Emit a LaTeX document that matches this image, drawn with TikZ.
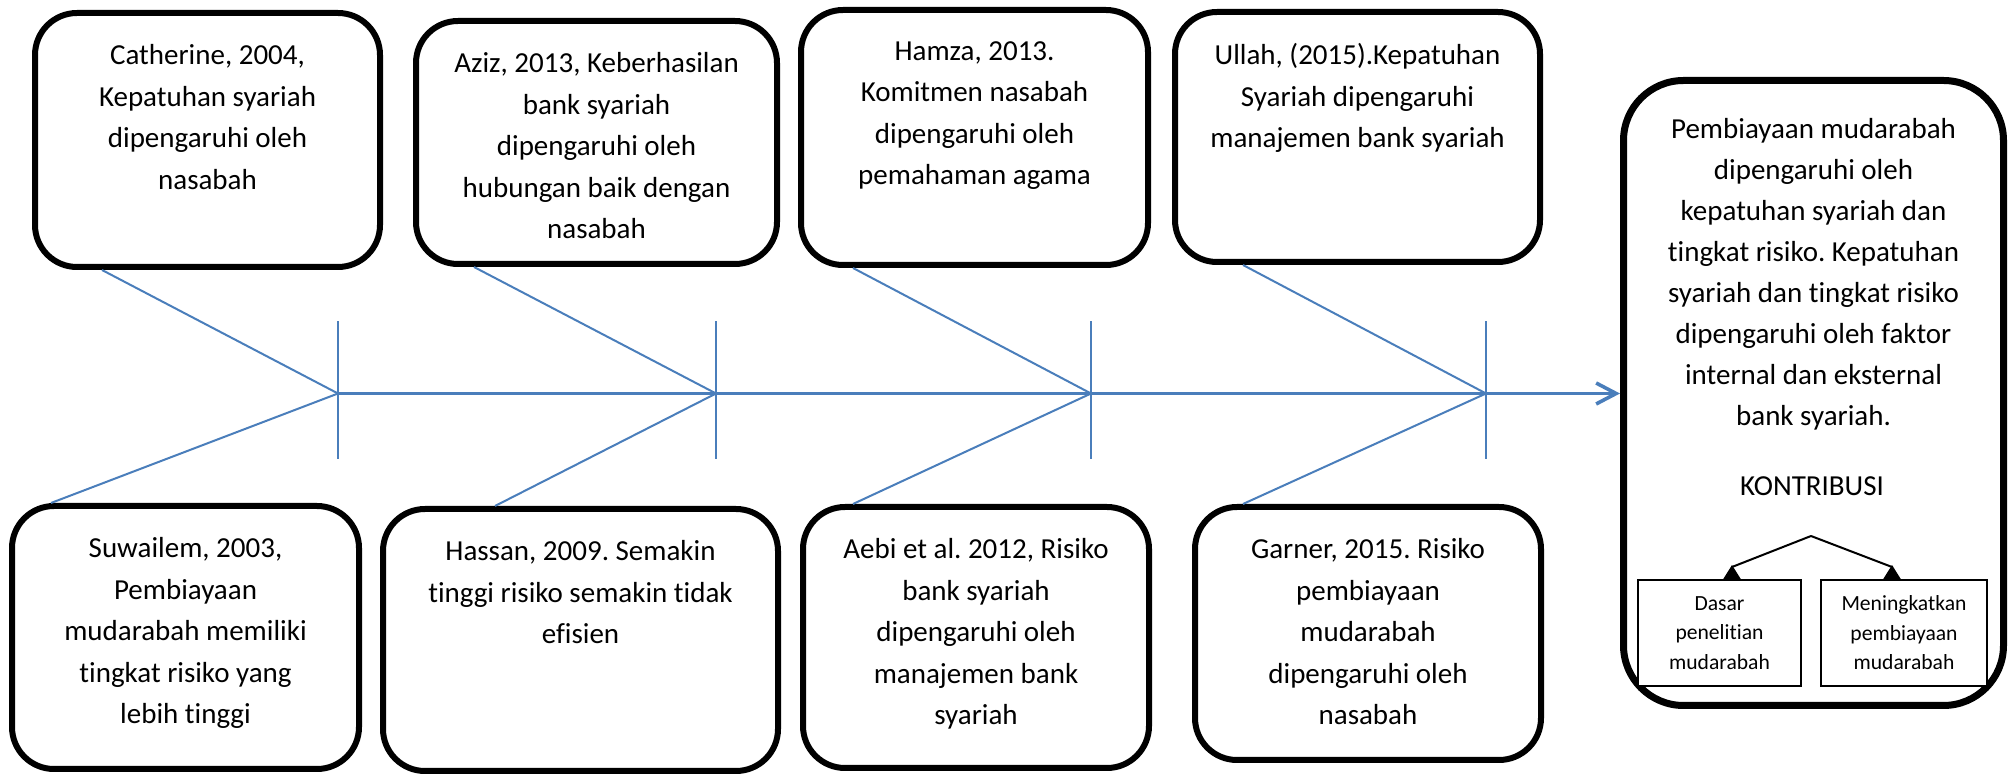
\documentclass[tikz,border=0pt]{standalone}
\usepackage{fontspec}
\setmainfont{Carlito}[Ligatures=NoCommon]
\frenchspacing
\usetikzlibrary{arrows.meta,backgrounds}
\definecolor{fishblue}{HTML}{4A7EBB}
\begin{document}
\begin{tikzpicture}[x=0.5pt,y=-0.5pt,
  refbox/.style={draw=black, line width=3pt, rounded corners=21pt, inner sep=0pt},
  reftext/.style={anchor=north, align=center, inner sep=0pt, font=\fontsize{14.5}{20.75}\selectfont},
  bigbox/.style={draw=black, line width=3.5pt, rounded corners=30pt, inner sep=0pt},
  smallbox/.style={draw=black, line width=1pt, fill=white, inner sep=0pt, align=center, font=\fontsize{10.8}{14.75}\selectfont},
  bone/.style={draw=fishblue, line width=1pt},
  spine/.style={draw=fishblue, line width=1.5pt},
  contrib/.style={draw=black, line width=1pt, -{Triangle[reversed,length=7pt,width=8.5pt]}}
]
\useasboundingbox (0,0) rectangle (2015,774);

% top boxes
\node[refbox, minimum width=172.5pt, minimum height=127pt] (c1) at (207.5,140) {};
\node[refbox, minimum width=180.5pt, minimum height=121.5pt] (c2) at (596.5,142.5) {};
\node[refbox, minimum width=173.5pt, minimum height=127.5pt] (c3) at (974.5,137.5) {};
\node[refbox, minimum width=182.5pt, minimum height=125pt] (c4) at (1357.5,137) {};
% bottom boxes
\node[refbox, minimum width=173.5pt, minimum height=131.5pt] (c5) at (185.5,637.5) {};
\node[refbox, minimum width=197.5pt, minimum height=131pt] (c6) at (580.5,640) {};
\node[refbox, minimum width=173pt, minimum height=130.5pt] (c7) at (976,637.5) {};
\node[refbox, minimum width=173pt, minimum height=126.5pt] (c8) at (1368,633.5) {};

\node[reftext, yshift=-17pt] (t1) at (c1.north) {Catherine, 2004,\\Kepatuhan syariah\\dipengaruhi oleh\\nasabah};
\node[reftext, yshift=-17pt] (t2) at (c2.north) {Aziz, 2013, Keberhasilan\\bank syariah\\dipengaruhi oleh\\hubungan baik dengan\\nasabah};
\node[reftext, yshift=-17pt] (t3) at (c3.north) {Hamza, 2013.\\Komitmen nasabah\\dipengaruhi oleh\\pemahaman agama};
\node[reftext, yshift=-17pt] (t4) at (c4.north) {Ullah, (2015).Kepatuhan\\Syariah dipengaruhi\\manajemen bank syariah};
\node[reftext, yshift=-17pt] (t5) at (c5.north) {Suwailem, 2003,\\Pembiayaan\\mudarabah memiliki\\tingkat risiko yang\\lebih tinggi};
\node[reftext, yshift=-17pt] (t6) at (c6.north) {Hassan, 2009. Semakin\\tinggi risiko semakin tidak\\efisien};
\node[reftext, yshift=-17pt] (t7) at (c7.north) {Aebi et al. 2012, Risiko\\bank syariah\\dipengaruhi oleh\\manajemen bank\\syariah};
\node[reftext, yshift=-17pt] (t8) at (c8.north) {Garner, 2015. Risiko\\pembiayaan\\mudarabah\\dipengaruhi oleh\\nasabah};

% result box
\node[bigbox, minimum width=190pt, minimum height=312.5pt] (big) at (1813.5,393) {};
\node[reftext, font=\fontsize{14.5}{20.5}\selectfont, yshift=-20.5pt] (bigtext) at (big.north) {Pembiayaan mudarabah\\dipengaruhi oleh\\kepatuhan syariah dan\\tingkat risiko. Kepatuhan\\syariah dan tingkat risiko\\dipengaruhi oleh faktor\\internal dan eksternal\\bank syariah.};
\node[inner sep=0pt, font=\fontsize{14.5}{17}\selectfont] (kon) at (1812,486) {KONTRIBUSI};
\node[smallbox, minimum width=81.5pt, minimum height=53pt] (d1) at (1719.5,633) {Dasar\\penelitian\\mudarabah};
\node[smallbox, minimum width=83pt, minimum height=53pt] (d2) at (1904,633) {Meningkatkan\\pembiayaan\\mudarabah};

\coordinate (apex) at (1811,536);
\begin{pgfonlayer}{background}
\draw[contrib] (apex) -- (1732,567) -- (1732,0 |- d1.north);
\draw[contrib] (apex) -- (1892,567) -- (1892,0 |- d2.north);
\end{pgfonlayer}

% spine
\coordinate (s0) at (338,393.5);
\coordinate (j1) at (338,393.5);
\coordinate (j2) at (716,393.5);
\coordinate (j3) at (1091,393.5);
\coordinate (j4) at (1486,393.5);
\draw[spine, -{Straight Barb[length=10pt,width=10.5pt,line width=1.8pt]}] (s0) -- (s0 -| big.west);
\foreach \j in {j1,j2,j3,j4}{
  \draw[bone] (\j) ++(0,-72) -- ++(0,138);
}
% bones
\draw[bone] (102,0 |- c1.south) -- (j1);
\draw[bone] (474,0 |- c2.south) -- (j2);
\draw[bone] (853,0 |- c3.south) -- (j3);
\draw[bone] (1243,0 |- c4.south) -- (j4);
\draw[bone] (51,0 |- c5.north) -- (j1);
\draw[bone] (495,0 |- c6.north) -- (j2);
\draw[bone] (853,0 |- c7.north) -- (j3);
\draw[bone] (1243,0 |- c8.north) -- (j4);
\end{tikzpicture}
\end{document}
